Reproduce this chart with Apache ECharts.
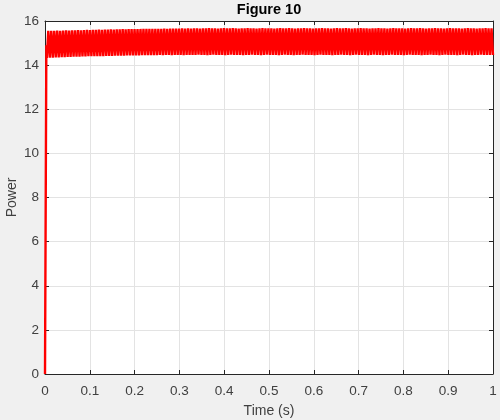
<!DOCTYPE html>
<html>
<head>
<meta charset="utf-8">
<script src="https://cdn.jsdelivr.net/npm/echarts@6/dist/echarts.min.js"></script>
<style>
html,body{margin:0;padding:0;background:#f0f0f0;}
#c{width:500px;height:420px;}
</style>
</head>
<body>
<div id="c"></div>
<script>
// Reading from the picture
const titleText = 'Figure 10';
const xName = 'Time (s)';
const yName = 'Power';
const xTicks = [0,0.1,0.2,0.3,0.4,0.5,0.6,0.7,0.8,0.9,1];
const yTicks = [0,2,4,6,8,10,12,14,16];

// start-up ramp (time, power)
const rampTimes = [0, 0.003];
const rampValues = [0, 14.9];

// oscillation: window and cycle count read from the stripes (~150 cycles)
const oscStart = 0.004;
const oscEnd = 1.0;
const cycleCount = 150;

// peak values of each cycle
const peaks = [
15.55,15.56,15.55,15.57,15.56,15.57,15.58,15.57,15.58,15.58,
15.59,15.58,15.59,15.60,15.59,15.60,15.60,15.61,15.60,15.61,
15.61,15.62,15.61,15.62,15.62,15.63,15.62,15.63,15.63,15.64,
15.63,15.64,15.64,15.64,15.65,15.64,15.65,15.65,15.65,15.66,
15.65,15.66,15.66,15.66,15.66,15.67,15.66,15.67,15.66,15.67,
15.67,15.66,15.67,15.67,15.68,15.67,15.67,15.66,15.67,15.68,
15.67,15.67,15.68,15.67,15.66,15.67,15.67,15.68,15.67,15.67,
15.66,15.67,15.68,15.67,15.67,15.67,15.66,15.67,15.68,15.67,
15.67,15.68,15.67,15.66,15.67,15.67,15.68,15.67,15.67,15.66,
15.67,15.67,15.68,15.67,15.67,15.66,15.67,15.68,15.67,15.67,
15.68,15.67,15.66,15.67,15.67,15.68,15.67,15.67,15.66,15.67,
15.67,15.68,15.67,15.67,15.66,15.67,15.68,15.67,15.67,15.67,
15.66,15.67,15.68,15.67,15.67,15.68,15.67,15.66,15.67,15.67,
15.68,15.67,15.67,15.66,15.67,15.68,15.67,15.67,15.67,15.66,
15.67,15.68,15.67,15.67,15.66,15.67,15.67,15.68,15.67,15.67
];
// trough values at the start of each cycle (plus the final one)
const troughs = [
14.33,14.34,14.34,14.35,14.35,14.36,14.36,14.37,14.37,14.38,
14.38,14.38,14.39,14.39,14.40,14.40,14.40,14.41,14.41,14.41,
14.42,14.42,14.42,14.43,14.43,14.43,14.43,14.44,14.44,14.44,
14.44,14.44,14.45,14.45,14.45,14.45,14.45,14.45,14.46,14.45,
14.46,14.46,14.45,14.46,14.46,14.46,14.45,14.46,14.46,14.46,
14.46,14.47,14.46,14.46,14.45,14.46,14.47,14.46,14.46,14.46,
14.45,14.46,14.47,14.46,14.46,14.46,14.45,14.46,14.46,14.47,
14.46,14.46,14.45,14.46,14.47,14.46,14.46,14.46,14.45,14.46,
14.47,14.46,14.46,14.45,14.46,14.46,14.47,14.46,14.46,14.46,
14.45,14.46,14.47,14.46,14.46,14.46,14.45,14.46,14.46,14.47,
14.46,14.46,14.45,14.46,14.47,14.46,14.46,14.46,14.45,14.46,
14.47,14.46,14.46,14.45,14.46,14.46,14.47,14.46,14.46,14.46,
14.45,14.46,14.47,14.46,14.46,14.46,14.45,14.46,14.46,14.47,
14.46,14.46,14.45,14.46,14.47,14.46,14.46,14.46,14.45,14.46,
14.47,14.46,14.46,14.45,14.46,14.46,14.47,14.46,14.46,14.46,
14.46
];

const points = [];
for (let i = 0; i < rampTimes.length; i++) points.push([rampTimes[i], rampValues[i]]);
const period = (oscEnd - oscStart) / cycleCount;
for (let k = 0; k < cycleCount; k++) {
  const t = oscStart + k * period;
  points.push([t, troughs[k]]);
  points.push([t + period / 2, peaks[k]]);
}
points.push([oscEnd, troughs[cycleCount]]);

const fontFamily = 'Liberation Sans, Arial, sans-serif';
const axisColor = '#262626';
const gridColor = '#e3e3e3';
const labelColor = '#404040';

const chart = echarts.init(document.getElementById('c'), null, {renderer: 'canvas'});
const xCommon = {
  type: 'value', min: xTicks[0], max: xTicks[xTicks.length - 1], interval: 0.1,
  axisLine: {show: true, onZero: false, lineStyle: {color: axisColor, width: 1}},
  axisTick: {show: true, inside: true, length: 4, lineStyle: {color: axisColor}}
};
const yCommon = {
  type: 'value', min: yTicks[0], max: yTicks[yTicks.length - 1], interval: 2,
  axisLine: {show: true, onZero: false, lineStyle: {color: axisColor, width: 1}},
  axisTick: {show: true, inside: true, length: 4, lineStyle: {color: axisColor}}
};
chart.setOption({
  backgroundColor: '#f0f0f0',
  animation: false,
  title: {
    text: titleText, left: 269, top: 2, textAlign: 'center', padding: 0,
    textStyle: {fontFamily: fontFamily, fontSize: 14.5, fontWeight: 'bold', color: '#000'}
  },
  grid: {left: 45, right: 7, top: 21, bottom: 46, show: true, backgroundColor: '#ffffff', borderWidth: 0,
    containLabel: false, outerBoundsMode: 'none'},
  xAxis: [
    Object.assign({}, xCommon, {
      position: 'bottom',
      name: xName, nameLocation: 'middle', nameGap: 30, nameMoveOverlap: false,
      nameTextStyle: {fontFamily: fontFamily, fontSize: 14, color: labelColor},
      axisLabel: {show: true, margin: 10, fontFamily: fontFamily, fontSize: 13.5, color: labelColor,
        formatter: v => String(Math.round(v * 10) / 10)},
      splitLine: {show: true, lineStyle: {color: gridColor, width: 1}}
    }),
    Object.assign({}, xCommon, {
      position: 'top', axisLabel: {show: false}, splitLine: {show: false}
    })
  ],
  yAxis: [
    Object.assign({}, yCommon, {
      position: 'left',
      name: yName, nameLocation: 'middle', nameGap: 26, nameMoveOverlap: false,
      nameTextStyle: {fontFamily: fontFamily, fontSize: 14, color: labelColor},
      axisLabel: {show: true, margin: 6, fontFamily: fontFamily, fontSize: 13.5, color: labelColor},
      splitLine: {show: true, lineStyle: {color: gridColor, width: 1}}
    }),
    Object.assign({}, yCommon, {
      position: 'right', axisLabel: {show: false}, splitLine: {show: false}
    })
  ],
  series: [{
    type: 'line',
    xAxisIndex: 0, yAxisIndex: 0,
    data: points,
    showSymbol: false, symbol: 'none',
    lineStyle: {color: '#ff0000', width: 2.4},
    z: 3
  }]
});
</script>
</body>
</html>
